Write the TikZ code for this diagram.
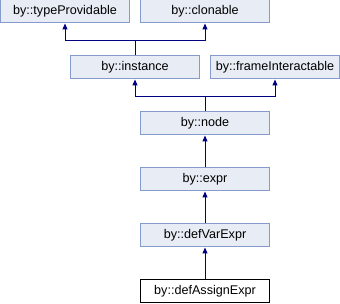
\documentclass[tikz,border=0pt]{standalone}
\usepackage{fontspec}
\setmainfont{Liberation Sans}
\usetikzlibrary{arrows.meta}
\definecolor{boxfill}{RGB}{232,236,245}
\definecolor{boxdraw}{RGB}{132,155,204}
\definecolor{edgecol}{RGB}{0,0,128}
\tikzset{
  cls/.style={draw=boxdraw, fill=boxfill, line width=1pt, minimum width=129pt, minimum height=23pt, inner sep=0pt, font=\fontsize{12.6pt}{14pt}\selectfont},
  cur/.style={cls, draw=black, fill=white},
  inh/.style={draw=edgecol, line width=1pt, -{Triangle[length=6pt,width=5pt]}},
  plain/.style={draw=edgecol, line width=1pt}
}
\begin{document}
\begin{tikzpicture}[x=1pt,y=-1pt]
\useasboundingbox (0,0) rectangle (340,304);
\node[cls] (tp) at (65,11.5) {by::typeProvidable};
\node[cls] (cl) at (205,11.5) {by::clonable};
\node[cls] (inst) at (135,67.5) {by::instance};
\node[cls] (fi) at (275,67.5) {by::frameInteractable};
\node[cls] (nd) at (205,123.5) {by::node};
\node[cls] (ex) at (205,179.5) {by::expr};
\node[cls] (dv) at (205,235.5) {by::defVarExpr};
\node[cur] (da) at (205,291.5) {by::defAssignExpr};
\coordinate (j1) at (135,41);
\coordinate (j2) at (205,97);
\draw[plain] (inst.north) -- (j1);
\draw[inh] (j1) -| (tp.south);
\draw[inh] (j1) -| (cl.south);
\draw[plain] (nd.north) -- (j2);
\draw[inh] (j2) -| (inst.south);
\draw[inh] (j2) -| (fi.south);
\draw[inh] (ex.north) -- (nd.south);
\draw[inh] (dv.north) -- (ex.south);
\draw[inh] (da.north) -- (dv.south);
\end{tikzpicture}
\end{document}
